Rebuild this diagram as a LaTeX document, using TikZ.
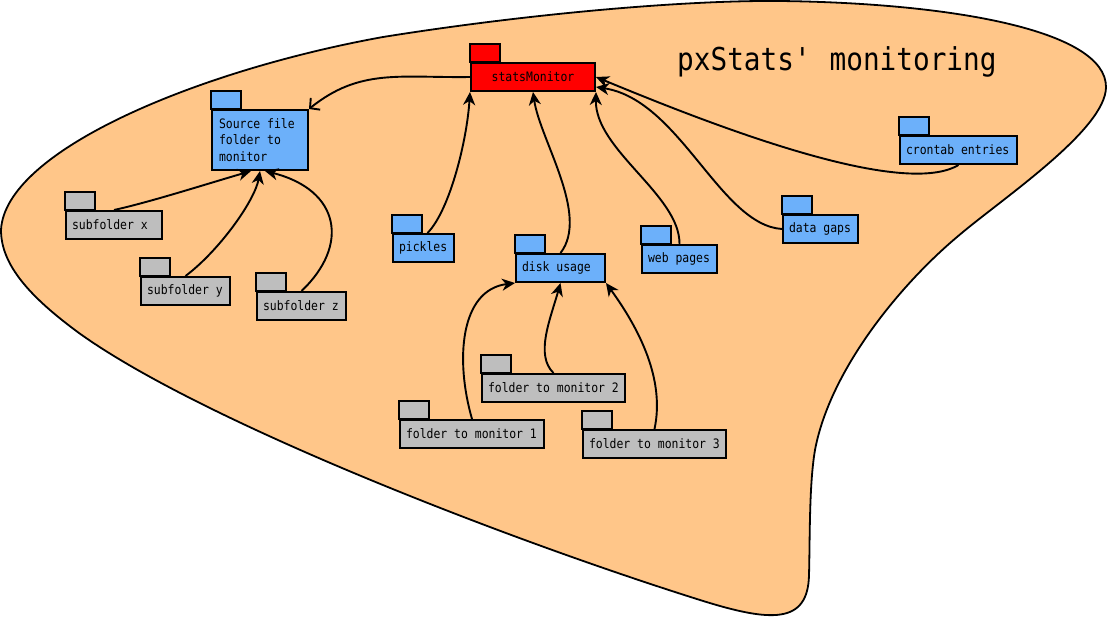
\documentclass[tikz,border=0pt]{standalone}
\usepackage{fontspec}
\newfontfamily\diafont{DejaVu Sans Mono}[FakeStretch=0.88]
\usepackage{xcolor}
\usetikzlibrary{arrows.meta}
\definecolor{blobfill}{RGB}{255,198,137}
\definecolor{folderblue}{RGB}{108,176,250}
\definecolor{foldergrey}{RGB}{190,190,190}
\definecolor{folderred}{RGB}{255,0,0}

\begin{document}
\begin{tikzpicture}[x=1pt, y=-1pt,
            every node/.style={
            text=black, font=\diafont\fontsize{13}{16.3}\selectfont}
        ]
        \tikzstyle {folder} = [draw, line width=2pt, anchor=north west, minimum height=28pt, inner xsep=6pt, inner ysep=0pt, align=left,
            execute at begin node={\spaceskip=\fontdimen2\font\relax}]
        \tikzstyle {blue_folder} = [folder, fill=folderblue]
        \tikzstyle {grey_folder} = [folder, fill=foldergrey]
        \tikzstyle {red_folder} = [folder, fill=folderred, align=center]
        \tikzstyle {tab} = [draw, line width=2pt]
        \tikzstyle {link} = [line width=1.9pt, -{Stealth[length=13pt, width=12pt, inset=4pt]}]
        \tikzstyle {open_link} = [line width=1.9pt, -{Straight Barb[length=7pt, width=15pt]}]

        \useasboundingbox (0,0) rectangle (1108,619);

        % the blob round everything
        \filldraw[fill=blobfill, line width=1.8pt] (1,230)
            .. controls (5,150) and (200,70) .. (383,37)
            .. controls (520,15) and (680,0) .. (780,1)
            .. controls (950,3) and (1106,30) .. (1106,87)
            .. controls (1106,130) and (1000,200) .. (957,237)
            .. controls (900,285) and (830,370) .. (815,450)
            .. controls (809,485) and (810,540) .. (809,575)
            .. controls (808,625) and (770,622) .. (700,600)
            .. controls (500,537) and (200,420) .. (79,333)
            .. controls (30,297) and (1,265) .. cycle;

        \node [anchor=base west, inner sep=0pt] (title) at (677,70) {\fontsize{31.5}{36}\selectfont pxStats\textquotesingle\ monitoring};

        \node [red_folder, text width=112pt] (stats) at (470,62) {statsMonitor};
        \node [blue_folder, text width=82pt, minimum height=60pt, inner xsep=7pt] (src) at (211,109) {Source file\\folder to\\monitor};
        \node [grey_folder, text width=84pt] (subx) at (65,210) {subfolder x};
        \node [grey_folder, text width=77pt] (suby) at (140,276) {subfolder y};
        \node [grey_folder, text width=77pt] (subz) at (256,291) {subfolder z};
        \node [blue_folder, text width=49pt] (pickles) at (392,233) {pickles};
        \node [blue_folder, text width=77pt] (disk) at (515,253) {disk usage};
        \node [blue_folder, text width=63pt] (web) at (641,244) {web pages};
        \node [blue_folder, text width=63pt] (gaps) at (782,214) {data gaps};
        \node [blue_folder, text width=105pt] (cron) at (899,135) {crontab entries};
        \node [grey_folder, text width=131pt] (fm2) at (481,373) {folder to monitor 2};
        \node [grey_folder, text width=132pt] (fm1) at (399,419) {folder to monitor 1};
        \node [grey_folder, text width=131pt] (fm3) at (582,429) {folder to monitor 3};

        % folder tabs
        \foreach \n/\c in {stats/folderred, src/folderblue, subx/foldergrey,
            suby/foldergrey, subz/foldergrey, pickles/folderblue, disk/folderblue,
            web/folderblue, gaps/folderblue, cron/folderblue, fm1/foldergrey,
            fm2/foldergrey, fm3/foldergrey}
            \draw[tab, fill=\c] (\n.north west) rectangle ++(30,-18);

        \draw[open_link] (stats.west) .. controls (400,78) and (360,68) .. (src.north east);

        \draw[link] (subx.north) .. controls (150,202) and (200,186) .. ([xshift=-9pt]src.south);
        \draw[link] (suby.north) .. controls (220,250) and (255,200) .. (src.south);
        \draw[link] (subz.north) .. controls (350,245) and (340,190) .. ([xshift=5pt]src.south);

        \draw[link] ([xshift=4pt]pickles.north) .. controls (450,210) and (467,140) .. (stats.south west);
        \draw[link] (disk.north) .. controls (590,215) and (540,140) .. (stats.south);
        \draw[link] (web.north) .. controls (680,195) and (595,150) .. (stats.south east);
        \draw[link] (gaps.west) .. controls (720,225) and (680,100) .. ([yshift=-10pt]stats.east);
        \draw[link] (cron.south) .. controls (900,200) and (700,120) .. (stats.east);

        \draw[link] (fm1.north) .. controls (455,360) and (460,290) .. (disk.south west);
        \draw[link] (fm2.north) .. controls (535,355) and (550,320) .. (disk.south);
        \draw[link] (fm3.north) .. controls (665,380) and (640,330) .. (disk.south east);

\end{tikzpicture}
\end{document}
